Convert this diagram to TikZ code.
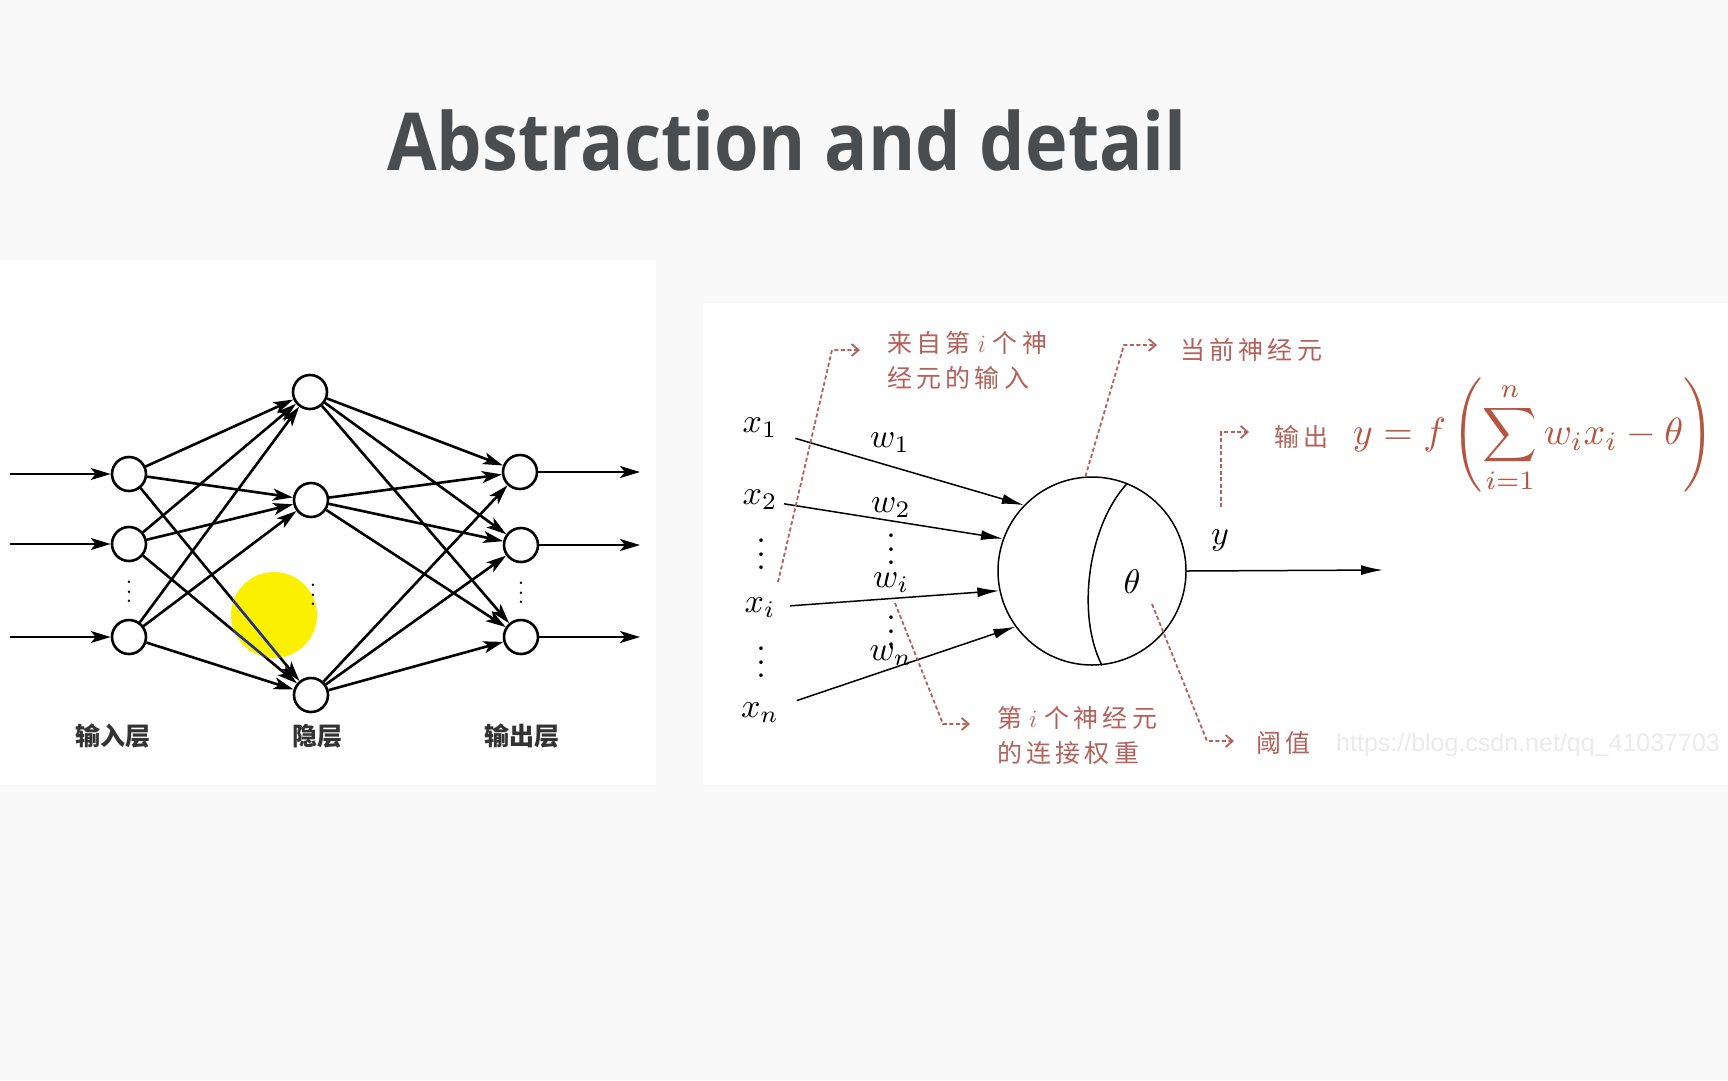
\documentclass[tikz,border=0pt]{standalone}
\usepackage{fontspec}
\newfontfamily\titlefont{Open Sans}
\newfontfamily\cjkfont{Noto Sans CJK SC}
\newfontfamily\annofont[LetterSpace=17]{Noto Sans CJK SC}
\newfontfamily\markfont{Liberation Sans}
\usetikzlibrary{arrows.meta}
\definecolor{pagebg}{RGB}{249,249,249}
\definecolor{titlegray}{RGB}{74,77,80}
\definecolor{annored}{RGB}{178,98,90}
\definecolor{formred}{RGB}{182,86,64}
\definecolor{hilite}{RGB}{250,240,0}
\definecolor{hiliteline}{RGB}{35,45,150}
\begin{document}
\begin{tikzpicture}[x=1pt, y=-1pt,
    neuron/.style={circle, draw, line width=2.6pt, fill=white, minimum size=34pt, inner sep=0pt},
    link/.style={line width=2.6pt, -{Stealth[length=20pt, width=12pt, inset=5pt]}},
    layer/.style={font=\cjkfont\bfseries\fontsize{25}{30}\selectfont, text=black!80},
    netdots/.style={scale=2.3, inner sep=0pt},
    cell/.style={circle, draw, line width=1.5pt, minimum size=188pt, inner sep=0pt},
    signal/.style={line width=1.5pt, -{Latex[length=22pt, width=10pt]}},
    symbol/.style={scale=3.4, inner sep=0pt},
    note/.style={font=\annofont\fontsize{25}{35}\selectfont, text=annored, align=left, anchor=west, inner sep=0pt},
    pointer/.style={draw=annored, line width=1.8pt, dash pattern=on 4pt off 2.5pt, -{Straight Barb[length=7pt, width=12pt]}}
]
\fill[pagebg] (0,0) rectangle (1728,1080);
\fill[white] (0,261) rectangle (656,785);
\fill[white] (703,303) rectangle (1728,785);
\useasboundingbox (0,0) rectangle (1728,1080);

\node (Title) [font=\titlefont\bfseries\fontsize{80}{96}\selectfont, text=titlegray, xscale=0.9, anchor=base] at (787,170) {Abstraction and detail};

\node (Input01) [neuron] at (129,474) {};
\node (Input02) [neuron] at (129,544) {};
\node (Input03) [neuron] at (129,637) {};
\node (Hidden01) [neuron] at (310,392) {};
\node (Hidden02) [neuron] at (311,500) {};
\node (Hidden03) [neuron] at (311,695) {};
\node (Output01) [neuron] at (520,472) {};
\node (Output02) [neuron] at (521,545) {};
\node (Output03) [neuron] at (521,637) {};
\coordinate (Feed01) at (10,474);
\coordinate (Feed02) at (10,544);
\coordinate (Feed03) at (10,637);
\coordinate (Emit01) at (640,472);
\coordinate (Emit02) at (640,545);
\coordinate (Emit03) at (640,637);

\draw[link] (Feed01) -- (Input01);
\draw[link] (Feed02) -- (Input02);
\draw[link] (Feed03) -- (Input03);
\draw[link] (Input01) -- (Hidden01);
\draw[link] (Input01) -- (Hidden02);
\draw[link] (Input01) -- (Hidden03);
\draw[link] (Input02) -- (Hidden01);
\draw[link] (Input02) -- (Hidden02);
\draw[link] (Input02) -- (Hidden03);
\draw[link] (Input03) -- (Hidden01);
\draw[link] (Input03) -- (Hidden02);
\draw[link] (Input03) -- (Hidden03);
\draw[link] (Hidden01) -- (Output01);
\draw[link] (Hidden01) -- (Output02);
\draw[link] (Hidden01) -- (Output03);
\draw[link] (Hidden02) -- (Output01);
\draw[link] (Hidden02) -- (Output02);
\draw[link] (Hidden02) -- (Output03);
\draw[link] (Hidden03) -- (Output01);
\draw[link] (Hidden03) -- (Output02);
\draw[link] (Hidden03) -- (Output03);
\draw[link] (Output01) -- (Emit01);
\draw[link] (Output02) -- (Emit02);
\draw[link] (Output03) -- (Emit03);

\fill[hilite] (274,615) circle (43);
\begin{scope}
  \clip (274,615) circle (43);
  \draw[hiliteline, line width=2.6pt] (Input01) -- (Hidden03);
  \draw[hiliteline, line width=2.6pt] (Input02) -- (Hidden03);
\end{scope}

\node (InputDots) [netdots] at (129,585) {$\vdots$};
\node (HiddenDots) [netdots] at (313,588) {$\vdots$};
\node (OutputDots) [netdots] at (521,586) {$\vdots$};
\node (InputLabel) [layer] at (113,736) {输入层};
\node (HiddenLabel) [layer] at (317,736) {隐层};
\node (OutputLabel) [layer] at (522,736) {输出层};

\node (Neuron) [cell] at (1092,571) {};
\draw[line width=1.5pt] (Neuron.68) .. controls (1088,525) and (1076,615) .. (Neuron.276);
\node (Theta) [symbol] at (1132,582) {$\theta$};
\node (X1) [symbol] at (760,428) {$x_1$};
\node (X2) [symbol] at (760,500) {$x_2$};
\node (XDots01) [symbol] at (761,544) {$\vdots$};
\node (Xi) [symbol] at (760,608) {$x_i$};
\node (XDots02) [symbol] at (761,652) {$\vdots$};
\node (Xn) [symbol] at (760,713) {$x_n$};
\node (W1) [symbol] at (890,443) {$w_1$};
\node (W2) [symbol] at (891,508) {$w_2$};
\node (WDots01) [symbol] at (891,539) {$\vdots$};
\node (Wi) [symbol] at (891,583) {$w_i$};
\node (WDots02) [symbol] at (891,621) {$\vdots$};
\node (Wn) [symbol] at (891,656) {$w_n$};
\node (Y) [symbol] at (1220,540) {$y$};
\coordinate (YOut) at (1383,570);

\draw[signal, shorten <=18pt] (X1) -- (Neuron.136);
\draw[signal, shorten <=6pt] (X2) -- (Neuron.160);
\draw[signal, shorten <=14pt] (Xi) -- (Neuron.192);
\draw[signal, shorten <=18pt] (Xn) -- (Neuron.216);
\draw[signal] (Neuron.east) -- (YOut);

\node (NoteInput) [note] at (887,360) {来自第\;$i$\;个神\\经元的输入};
\node (NoteCell) [note] at (1180,350) {当前神经元};
\node (NoteOut) [note] at (1274,437) {输出};
\node (Formula) [scale=3.8, text=formred, anchor=west, inner sep=0pt] at (1352,436) {$\displaystyle y = f\left(\sum_{i=1}^{n} w_i x_i - \theta\right)$};
\node (NoteWeight) [note] at (997,735) {第\;$i$\;个神经元\\的连接权重};
\node (NoteTheta) [note] at (1256,743) {阈值};
\node (Mark) [font=\markfont\fontsize{25}{30}\selectfont, text=black!8, anchor=west, inner sep=0pt] at (1336,745) {https://blog.csdn.net/qq\_41037703};

\coordinate (InputFoot) at (778,582);
\coordinate (InputBend) at (832,350);
\coordinate (OutFoot) at (1221,507);
\coordinate (OutBend) at (1221,432);
\coordinate (CellBend) at (1124,345);
\coordinate (WeightFoot) at (895,603);
\coordinate (WeightBend) at (943,724);
\coordinate (ThetaFoot) at (1152,604);
\coordinate (ThetaBend) at (1207,741);
\draw[pointer, shorten >=27pt] (InputFoot) -- (InputBend) -- (InputBend -| NoteInput.west);
\draw[pointer, shorten >=23pt] (Neuron.94) -- (CellBend) -- (CellBend -| NoteCell.west);
\draw[pointer, shorten >=25pt] (OutFoot) -- (OutBend) -- (OutBend -| NoteOut.west);
\draw[pointer, shorten >=27pt] (WeightFoot) -- (WeightBend) -- (WeightBend -| NoteWeight.west);
\draw[pointer, shorten >=22pt] (ThetaFoot) -- (ThetaBend) -- (ThetaBend -| NoteTheta.west);
\end{tikzpicture}
\end{document}
